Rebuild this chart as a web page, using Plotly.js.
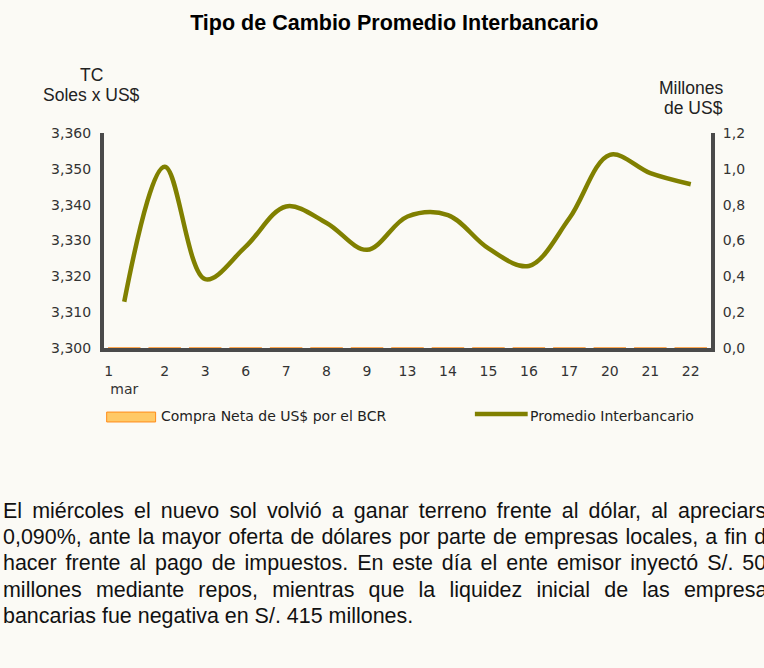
<!DOCTYPE html>
<html>
<head>
<meta charset="utf-8">
<script src="https://cdn.plot.ly/plotly-3.0.1.min.js"></script>
<style>
  html, body { margin: 0; padding: 0; background: #FBFAF5; overflow: hidden; width: 764px; height: 668px; }
  #chart { position: absolute; left: 0; top: 0; width: 764px; height: 668px; }
  #texto { position: absolute; left: 3px; top: 498px; width: 795px; font-family: "Liberation Sans", Arial, sans-serif;
           font-size: 22px; line-height: 26.2px; color: #111; text-align: justify;
           transform: scaleX(0.975); transform-origin: 0 0; }
</style>
</head>
<body>
<div id="chart"></div>
<div id="texto">El miércoles el nuevo sol volvió a ganar terreno frente al dólar, al apreciarse 0,090%, ante la mayor oferta de dólares por parte de empresas locales, a fin de hacer frente al pago de impuestos. En este día el ente emisor inyectó S/. 505 millones mediante repos, mientras que la liquidez inicial de las empresas bancarias fue negativa en S/. 415 millones.</div>
<script>
const dias = ['1','2','3','6','7','8','9','13','14','15','16','17','20','21','22'];
const tickLabels = ['1\u00a0\u00a0\u00a0\u00a0\u00a0\u00a0\u00a0<br>mar','2','3','6','7','8','9','13','14','15','16','17','20','21','22'];
const tipoCambio = [3312.9, 3350.6, 3319.2, 3328.3, 3339.5, 3334.9, 3327.4, 3336.7, 3337.1, 3327.8, 3322.9, 3336.2, 3353.9, 3348.8, 3345.7];
const compraNeta = [0,0,0,0,0,0,0,0,0,0,0,0,0,0,0];
const leftTicks = [3300, 3310, 3320, 3330, 3340, 3350, 3360];
const leftTickText = ['3,300','3,310','3,320','3,330','3,340','3,350','3,360'];
const rightTicks = [0, 0.2, 0.4, 0.6, 0.8, 1.0, 1.2];
const rightTickText = ['0,0','0,2','0,4','0,6','0,8','1,0','1,2'];

const bg = '#FBFAF5';
const axisColor = '#4a4a4a';
const olive = '#808000';
const tickFont = {family: 'DejaVu Sans, Verdana, sans-serif', size: 14, color: '#333'};
const titleFont = {family: 'Liberation Sans, Arial, sans-serif', size: 17.5, color: '#222'};
const legendFont = {family: 'DejaVu Sans, Verdana, sans-serif', size: 14, color: '#222'};

const traces = [
  {
    type: 'bar', x: dias, y: compraNeta, yaxis: 'y2', name: 'Compra Neta de US$ por el BCR',
    marker: {color: '#FFC966', line: {color: '#FF8C1A', width: 1}}, showlegend: false, hoverinfo: 'skip'
  },
  {
    type: 'scatter', mode: 'lines', x: dias, y: tipoCambio, name: 'Promedio Interbancario',
    line: {color: olive, width: 4.5, shape: 'spline', smoothing: 1}, showlegend: false
  }
];

const layout = {
  width: 764, height: 668,
  paper_bgcolor: bg, plot_bgcolor: bg,
  margin: {l: 104, r: 53, t: 133, b: 320},
  showlegend: false,
  title: {text: '<b>Tipo de Cambio Promedio Interbancario</b>', x: 0.516, xanchor: 'center', y: 0.967, yanchor: 'middle',
          font: {family: 'Liberation Sans, Arial, sans-serif', size: 21.5, color: '#000'}},
  xaxis: {
    type: 'category', tickmode: 'array', tickvals: dias, ticktext: tickLabels,
    range: [-0.5, dias.length - 0.5],
    showline: true, linecolor: axisColor, linewidth: 4, showgrid: false, zeroline: false,
    ticks: 'outside', ticklen: 7, tickcolor: bg, tickfont: tickFont
  },
  yaxis: {
    range: [3300, 3360], tickmode: 'array', tickvals: leftTicks, ticktext: leftTickText,
    showline: true, linecolor: axisColor, linewidth: 4, showgrid: false, zeroline: false,
    ticks: 'outside', ticklen: 6, tickcolor: bg, tickfont: tickFont
  },
  yaxis2: {
    overlaying: 'y', side: 'right', range: [0, 1.2], tickmode: 'array', tickvals: rightTicks, ticktext: rightTickText,
    showline: true, linecolor: axisColor, linewidth: 4, showgrid: false, zeroline: false,
    ticks: 'outside', ticklen: 5, tickcolor: bg, tickfont: tickFont
  },
  shapes: [
    {type: 'rect', xref: 'paper', yref: 'paper', x0: 0.0044, x1: 0.085, y0: -0.298, y1: -0.344,
     fillcolor: '#FFC966', line: {color: '#FF8C1A', width: 1}},
    {type: 'line', xref: 'paper', yref: 'paper', x0: 0.611, x1: 0.698, y0: -0.307, y1: -0.307,
     line: {color: olive, width: 4.5}}
  ],
  annotations: [
    {xref: 'paper', yref: 'paper', x: -0.0198, y: 1.270, xanchor: 'center', yanchor: 'middle', showarrow: false,
     text: 'TC', font: titleFont},
    {xref: 'paper', yref: 'paper', x: -0.0198, y: 1.177, xanchor: 'center', yanchor: 'middle', showarrow: false,
     text: 'Soles x US$', font: titleFont},
    {xref: 'paper', yref: 'paper', x: 1.023, y: 1.209, xanchor: 'right', yanchor: 'middle', showarrow: false,
     text: 'Millones', font: titleFont},
    {xref: 'paper', yref: 'paper', x: 1.023, y: 1.116, xanchor: 'right', yanchor: 'middle', showarrow: false,
     text: 'de US$', font: titleFont},
    {xref: 'paper', yref: 'paper', x: 0.091, y: -0.316, xanchor: 'left', yanchor: 'middle', showarrow: false,
     text: 'Compra Neta de US$ por el BCR', font: legendFont},
    {xref: 'paper', yref: 'paper', x: 0.699, y: -0.316, xanchor: 'left', yanchor: 'middle', showarrow: false,
     text: 'Promedio Interbancario', font: legendFont}
  ]
};

Plotly.newPlot('chart', traces, layout, {staticPlot: true, displayModeBar: false});
</script>
</body>
</html>
